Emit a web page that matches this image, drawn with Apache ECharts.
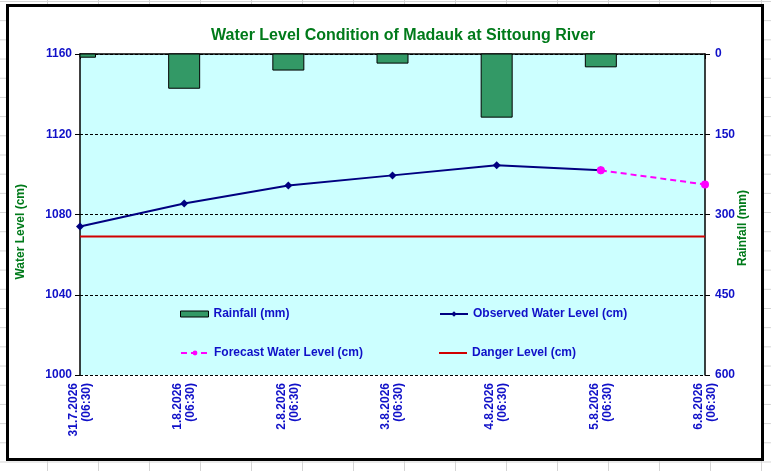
<!DOCTYPE HTML>
<html>
<head>
<meta charset="utf-8">
<title>Water Level Condition of Madauk at Sittoung River</title>
<script src="https://cdn.jsdelivr.net/npm/echarts@6/dist/echarts.min.js"></script>
<style>
    html, body {
        margin: 0;
        padding: 0;
        width: 771px;
        height: 471px;
        overflow: hidden;
        background-color: #fff;
        background-image: linear-gradient(to right, #d4d4d4 1px, transparent 1px),
                          linear-gradient(to bottom, #d4d4d4 1px, transparent 1px);
        background-size: 51px 19.2px;
        background-position: 47px 1px;
    }
    #frame {
        position: absolute;
        left: 6px; top: 4px;
        width: 758px; height: 457px;
        box-sizing: border-box;
        border: 3px solid #000;
        background: #fff;
    }
    #graphic {position: absolute; left: 0; top: 0; width: 771px; height: 471px;}
</style>
</head>
<body>
<div id="frame"></div>
<div id="graphic"></div>

<script type="text/javascript">
// data
var dates = ['31.7.2026\n(06:30)', '1.8.2026\n(06:30)', '2.8.2026\n(06:30)', '3.8.2026\n(06:30)',
             '4.8.2026\n(06:30)', '5.8.2026\n(06:30)', '6.8.2026\n(06:30)'];
var rainfall = [6, 64, 30, 17, 118, 24, 0];
var observed = [1074, 1085.5, 1094.5, 1099.5, 1104.5, 1102, null];
var forecast = [null, null, null, null, null, 1102, 1095];
var danger = [1069, 1069, 1069, 1069, 1069, 1069, 1069];

var blue = '#1010c8';
var green = '#007a1a';
var barColor = '#339966';
var font = 'Arial, "Liberation Sans", sans-serif';

function legendAt(left, top, item, h) {
    return {
        left: left, top: top,
        padding: 0,
        data: [item],
        itemWidth: 28, itemHeight: h,
        textStyle: {color: blue, fontWeight: 'bold', fontSize: 12, fontFamily: font}
    };
}

// bars are drawn by hand so the half bar on the first tick gets cut at the axis
function renderRain(params, api) {
    var top = api.coord([api.value(0), 0]);
    var bottom = api.coord([api.value(0), api.value(1)]);
    var w = 31;
    var rect = echarts.graphic.clipRectByRect(
        {x: top[0] - w / 2, y: top[1], width: w, height: bottom[1] - top[1]},
        {x: params.coordSys.x, y: params.coordSys.y,
         width: params.coordSys.width, height: params.coordSys.height});
    if (!rect || rect.height <= 0) return null;
    return {
        type: 'rect',
        shape: rect,
        style: {fill: barColor, stroke: '#000', lineWidth: 1}
    };
}

option = {
    animation: false,
    title: {
        text: 'Water Level Condition of Madauk at Sittoung River',
        left: 206, top: 23,
        textStyle: {color: green, fontSize: 16, fontWeight: 'bold', fontFamily: font}
    },
    legend: [
        legendAt(180, 308, {name: 'Rainfall (mm)', icon: 'rect',
            itemStyle: {color: barColor, borderColor: '#000', borderWidth: 1}}, 6),
        legendAt(439, 308, {name: 'Observed Water Level (cm)'}, 7),
        legendAt(180, 347, {name: 'Forecast Water Level (cm)'}, 6),
        legendAt(439, 347, {name: 'Danger Level (cm)', icon: 'rect'}, 2)
    ],
    graphic: [
        {type: 'text', left: 15, top: 184, rotation: Math.PI / 2,
         style: {text: 'Water Level (cm)', fill: green, font: 'bold 12px ' + font}},
        {type: 'text', left: 737, top: 190, rotation: Math.PI / 2,
         style: {text: 'Rainfall (mm)', fill: green, font: 'bold 12px ' + font}}
    ],
    grid: {
        left: 80, right: 66, top: 54, bottom: 96,
        show: true, backgroundColor: '#ccffff', borderWidth: 0
    },
    xAxis: {
        type: 'category',
        data: dates,
        boundaryGap: false,
        axisLine: {lineStyle: {color: '#000', width: 1.5}},
        axisTick: {length: 5, lineStyle: {color: '#000'}},
        axisLabel: {
            rotate: 90, margin: 8, interval: 0,
            color: blue, fontWeight: 'bold', fontSize: 12, lineHeight: 13, fontFamily: font
        }
    },
    yAxis: [{
        type: 'value',
        min: 1000, max: 1160, interval: 40,
        axisLine: {show: true, lineStyle: {color: '#000', width: 1.5}},
        axisTick: {show: true, length: 5, lineStyle: {color: '#000'}},
        axisLabel: {color: blue, fontWeight: 'bold', fontSize: 12, margin: 8, fontFamily: font,
            formatter: function (v) { return String(v); }},
        splitLine: {show: true, lineStyle: {color: '#000', type: [3, 2], width: 1}}
    }, {
        type: 'value',
        inverse: true,
        min: 0, max: 600, interval: 150,
        axisLine: {show: true, lineStyle: {color: '#000', width: 1.5}},
        axisTick: {show: true, length: 5, lineStyle: {color: '#000'}},
        axisLabel: {color: blue, fontWeight: 'bold', fontSize: 12, margin: 10, fontFamily: font},
        splitLine: {show: false}
    }],
    series: [{
        name: 'Rainfall (mm)',
        type: 'custom',
        yAxisIndex: 1,
        renderItem: renderRain,
        data: rainfall.map(function (v, i) { return [i, v]; }),
        encode: {x: 0, y: 1},
        itemStyle: {color: barColor}
    }, {
        name: 'Danger Level (cm)',
        type: 'line',
        data: danger,
        symbol: 'none',
        lineStyle: {color: '#d00000', width: 2},
        itemStyle: {color: '#d00000'}
    }, {
        name: 'Observed Water Level (cm)',
        type: 'line',
        data: observed,
        symbol: 'diamond', symbolSize: 8,
        lineStyle: {color: '#000080', width: 2},
        itemStyle: {color: '#000080'}
    }, {
        name: 'Forecast Water Level (cm)',
        type: 'line',
        data: forecast,
        symbol: 'circle', symbolSize: 8,
        lineStyle: {color: '#ff00ff', width: 2, type: [6, 4]},
        itemStyle: {color: '#ff00ff'}
    }]
};

var myChart = echarts.init(document.getElementById('graphic'));
myChart.setOption(option);
</script>
</body>
</html>
